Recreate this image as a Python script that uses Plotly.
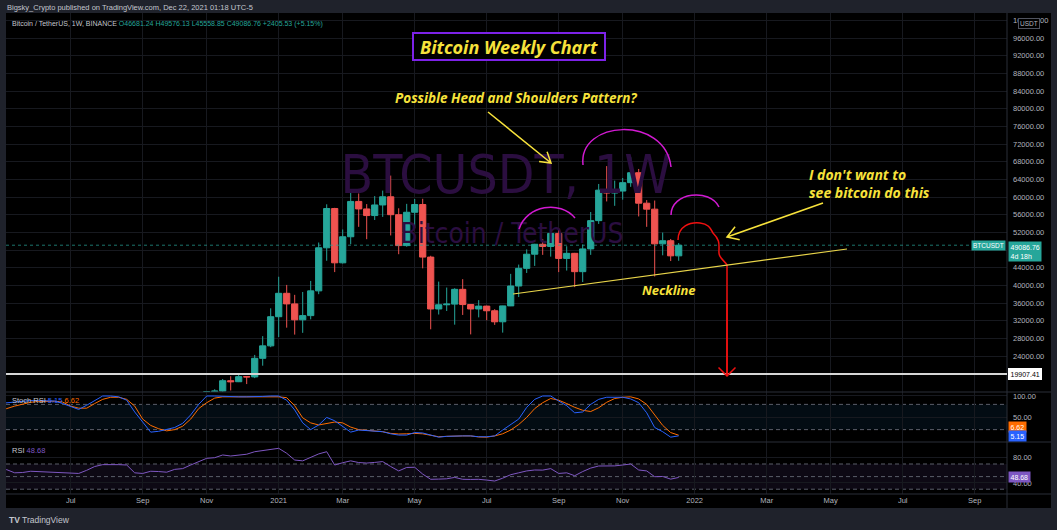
import re
import math
import pandas as pd
import plotly.graph_objects as go

# ---------------- data ----------------
candle_start = "2020-11-02"   # weekly candles, Monday opens
opens = [13760, 15960, 16060, 18410, 18180, 19330, 19270, 23480, 26300, 32900,
         38200, 35800, 32200, 33150, 38750, 48500, 57400, 45100, 51000, 59000,
         57300, 55800, 58200, 60050, 56000, 49000, 56550, 58300, 46400, 34650,
         35600, 35750, 39100, 35650, 34650, 35300, 34250, 31750, 35350, 39850,
         43850, 47050, 49300, 48800, 51750, 46100, 47250, 43100, 48250, 54650,
         61550, 60900, 61350, 63250, 65500, 58600, 57250, 49400, 50100, 46681.24]
highs = [15970, 16480, 18800, 19420, 19880, 19420, 24250, 28500, 34800, 41950,
         40100, 37850, 38500, 41000, 49700, 58350, 57550, 52650, 61800, 60800,
         58400, 60200, 61450, 64850, 57450, 58450, 59550, 59600, 46700, 40850,
         39500, 39350, 41400, 35750, 36650, 35400, 34600, 35400, 42600, 44700,
         48150, 49400, 50500, 52000, 52920, 48850, 47350, 49250, 56600, 62950,
         67000, 63700, 64300, 69000, 66350, 59300, 59200, 51950, 50500, 49576.13]
lows = [13200, 14800, 15800, 16200, 18100, 17650, 19000, 21810, 26000, 28300,
        30420, 28850, 29250, 32300, 38000, 45570, 43000, 44950, 49300, 53250,
        50450, 54800, 55500, 51300, 47050, 48750, 52900, 43850, 30050, 33400,
        34200, 31100, 33300, 28900, 32750, 32100, 31050, 29300, 35300, 37350,
        42800, 44400, 46900, 46500, 43000, 43350, 39600, 40750, 46900, 53900,
        59000, 58000, 59400, 62300, 55600, 53250, 42000, 46800, 45500, 45558.85]
closes = [15960, 16060, 18410, 18180, 19330, 19270, 23480, 26300, 32900, 38200,
          35800, 32200, 33150, 38750, 48500, 57400, 45100, 51000, 59000, 57300,
          55800, 58200, 60050, 56000, 49000, 56550, 58300, 46400, 34650, 35600,
          35750, 39100, 35650, 34650, 35300, 34250, 31750, 35350, 39850, 43850,
          47050, 49300, 48800, 51750, 46100, 47250, 43100, 48250, 54650, 61550,
          60900, 61350, 63250, 65500, 58600, 57250, 49400, 50100, 46681.24, 49086.76]

indicator_start = "2020-05-04"
stoch_k = [82, 84, 86, 88, 89, 89, 89, 88, 82, 74.5,
           68, 78, 90, 100, 100, 98, 90, 62, 38, 14,
           16, 21, 25, 35, 55, 80, 100, 100, 99, 98,
           98, 98, 98, 99, 100, 100, 90, 66.7, 36, 20,
           31, 49, 41, 27, 14, 19, 18, 16, 15, 10,
           7, 7, 13, 12, 7, 2, 4, 5, 5, 5,
           3, 3, 5, 19, 32, 45, 73, 92, 100, 100,
           88, 77, 60, 62, 80, 92, 97, 97, 97, 93,
           84, 60, 25, 15, 2, 5.15]
stoch_d = [66, 70, 76, 81, 85, 87, 88, 87.5, 85.5, 76,
           71, 71, 82, 92, 97, 97, 92, 76, 45, 30,
           22, 17, 20, 28, 45, 70, 84, 95, 98, 98,
           98, 98, 98, 98, 98, 98, 96, 77, 48, 36,
           31, 34, 38, 36, 26, 20, 18, 16, 15, 11,
           9.5, 10, 11, 10, 7, 3, 4, 5, 5, 5,
           2.5, 2, 5, 10, 19, 32, 49, 70, 84, 94,
           90, 82, 73, 66, 63, 72, 85, 94, 97, 98,
           93, 80, 55, 30, 13, 6.62]
rsi = [62, 61, 56, 56.5, 58.5, 58, 56.5, 56, 55.5, 55,
       55, 60, 66, 69, 69.5, 69, 68.4, 56, 55, 58.5,
       58, 57, 61.5, 62.7, 68.4, 74, 79, 80, 84.3, 82.7,
       84.5, 85.5, 89.5, 91, 93, 94.9, 87, 76.3, 75, 80.6,
       86, 89.5, 68.4, 72, 75, 72.3, 71.5, 72.5, 73.8, 66,
       59, 64.5, 64.8, 54, 45.7, 46, 46.5, 48.7, 45.7, 45.5,
       45.7, 44.5, 43, 47.5, 53, 56, 59, 60.5, 60.3, 62.7,
       55, 56, 51.4, 58, 63.5, 66.8, 66.5, 67, 68.4, 70,
       60.5, 59, 49.8, 50.2, 46, 48.68]

price_ticks = list(range(24000, 100001, 4000))
stoch_ticks = [50, 100]
rsi_ticks = [40, 80]
time_tick_dates = ["2020-07-06", "2020-09-07", "2020-11-02", "2021-01-04", "2021-03-01",
                   "2021-05-03", "2021-07-05", "2021-09-06", "2021-11-01", "2022-01-03",
                   "2022-03-07", "2022-05-02", "2022-07-04", "2022-09-05"]
time_tick_labels = ["Jul", "Sep", "Nov", "2021", "Mar", "May", "Jul", "Sep", "Nov",
                    "2022", "Mar", "May", "Jul", "Sep"]

last_price = 49086.76
support_price = 19907.41
stoch_k_last, stoch_d_last, rsi_last = 5.15, 6.62, 48.68

candle_dates = pd.date_range(candle_start, periods=len(opens), freq="7D")
ind_dates = pd.date_range(indicator_start, periods=len(rsi), freq="7D")

# ---------------- geometry ----------------
W, H = 1057, 530
PL, PR, PT, PB = 6, 1007, 13, 494          # plot area in pixels
MAIN_BOT, STOCH_BOT = 392, 442
REF_DATE, REF_PX, PX_PER_WEEK = pd.Timestamp("2021-01-04"), 278.7, 8.0
PRICE_PER_PX, PRICE_REF, PRICE_REF_PX = 226.4, 96000, 38


def px_to_date(px):
    return REF_DATE + pd.Timedelta(days=(px - REF_PX) * 7 / PX_PER_WEEK)


def py_to_price(py):
    return PRICE_REF - (py - PRICE_REF_PX) * PRICE_PER_PX


def X(px):
    return (px - PL) / (PR - PL)


def Y(py):
    return (PB - py) / (PB - PT)


def path(s):
    def rep(m):
        return f"{X(float(m.group(1))):.5f},{Y(float(m.group(2))):.5f}"
    return re.sub(r"(-?\d+\.?\d*),(-?\d+\.?\d*)", rep, s)


def arrow(x0, y0, x1, y1, length=11, ang=30):
    a = math.atan2(y0 - y1, x0 - x1)
    r = math.radians(ang)
    p1 = (x1 + length * math.cos(a + r), y1 + length * math.sin(a + r))
    p2 = (x1 + length * math.cos(a - r), y1 + length * math.sin(a - r))
    return (f"M {x0},{y0} L {x1},{y1} M {p1[0]:.2f},{p1[1]:.2f} "
            f"L {x1},{y1} L {p2[0]:.2f},{p2[1]:.2f}")


UP, DOWN = "#26a69a", "#ef5350"
YELLOW, MAGENTA, RED = "#f7e23b", "#d21ad2", "#f01010"
GRID = "#17191f"
AXIS_TXT = "#b2b5be"
BASE_FONT = "Liberation Sans, Arial, sans-serif"
DRAW_FONT = "Open Sans, Lato, sans-serif"
WM_FONT = "Liberation Sans Narrow, DejaVu Sans Condensed, sans-serif"

fig = go.Figure()

# watermark (beneath candles)
fig.add_trace(go.Scatter(x=[px_to_date(506)], y=[py_to_price(180)], mode="text",
                         text=["BTCUSDT, 1W"], textposition="middle center",
                         textfont=dict(family=WM_FONT, size=53, color="#2b0e40"),
                         hoverinfo="skip", showlegend=False))
fig.add_trace(go.Scatter(x=[px_to_date(512)], y=[py_to_price(236)], mode="text",
                         text=["Bitcoin / TetherUS"], textposition="middle center",
                         textfont=dict(family=WM_FONT, size=28, color="#2b0e40"),
                         hoverinfo="skip", showlegend=False))

fig.add_trace(go.Candlestick(
    x=candle_dates, open=opens, high=highs, low=lows, close=closes,
    increasing=dict(line=dict(color=UP, width=1), fillcolor=UP),
    decreasing=dict(line=dict(color=DOWN, width=1), fillcolor=DOWN),
    whiskerwidth=0, hoverinfo="skip", showlegend=False))

fig.add_trace(go.Scatter(x=ind_dates, y=stoch_d, mode="lines", yaxis="y2",
                         line=dict(color="#ff6d00", width=1), hoverinfo="skip", showlegend=False))
fig.add_trace(go.Scatter(x=ind_dates, y=stoch_k, mode="lines", yaxis="y2",
                         line=dict(color="#2962ff", width=1), hoverinfo="skip", showlegend=False))
fig.add_trace(go.Scatter(x=ind_dates, y=rsi, mode="lines", yaxis="y3",
                         line=dict(color="#7e57c2", width=1), hoverinfo="skip", showlegend=False))

shapes = []
# black chart background incl. price & time axes
shapes.append(dict(type="rect", xref="paper", yref="paper", x0=X(6), x1=X(1051), y0=Y(508), y1=Y(13),
                   fillcolor="#000000", line=dict(width=0), layer="below"))
# indicator bands
shapes.append(dict(type="rect", xref="paper", yref="y2", x0=0, x1=1, y0=20, y1=80,
                   fillcolor="rgba(33,150,243,0.08)", line=dict(width=0), layer="below"))
shapes.append(dict(type="rect", xref="paper", yref="y3", x0=0, x1=1, y0=30, y1=70,
                   fillcolor="rgba(126,87,194,0.10)", line=dict(width=0), layer="below"))
for lvl in (20, 80):
    shapes.append(dict(type="line", xref="paper", yref="y2", x0=0, x1=1, y0=lvl, y1=lvl,
                       line=dict(color="#5a5e69", width=1, dash="4px,3px"), layer="below"))
for lvl in (30, 50, 70):
    shapes.append(dict(type="line", xref="paper", yref="y3", x0=0, x1=1, y0=lvl, y1=lvl,
                       line=dict(color="#5a5e69", width=1, dash="4px,3px"), layer="below"))
# pane separators
for py in (MAIN_BOT, STOCH_BOT, PB):
    shapes.append(dict(type="line", xref="paper", yref="paper", x0=X(6), x1=X(1051), y0=Y(py), y1=Y(py),
                       line=dict(color="#2a2e39", width=1)))
shapes.append(dict(type="line", xref="paper", yref="paper", x0=1, x1=1, y0=Y(508), y1=Y(13),
                   line=dict(color="#2a2e39", width=1)))
# price lines
shapes.append(dict(type="line", xref="paper", yref="y", x0=0, x1=1, y0=last_price, y1=last_price,
                   line=dict(color="rgba(38,166,154,0.7)", width=1, dash="dot")))
shapes.append(dict(type="line", xref="paper", yref="y", x0=0, x1=1, y0=support_price, y1=support_price,
                   line=dict(color="#d6d6d6", width=2)))
# title box
shapes.append(dict(type="rect", xref="paper", yref="paper", x0=X(413), x1=X(605), y0=Y(60), y1=Y(33),
                   fillcolor="#000000", line=dict(color="#7d22e8", width=2)))
# head and shoulders arcs
for d in ("M 519,229 C 527,205 560,200 575,218",
          "M 583,165 C 578,120 665,115 671,167",
          "M 671,215 C 671,192 710,188 719,207"):
    shapes.append(dict(type="path", xref="paper", yref="paper", path=path(d),
                       line=dict(color=MAGENTA, width=1.5)))
# red "don't want" path
shapes.append(dict(type="path", xref="paper", yref="paper",
                   path=path("M 678,240 C 678,226 690,222 700,223 C 710,224 711,230 713,233 "
                             "C 720,240 719,244 719,250 C 718,258 724,260 727,265 L 727,375"),
                   line=dict(color=RED, width=1.5)))
shapes.append(dict(type="path", xref="paper", yref="paper", path=path(arrow(727, 300, 727, 376, 12, 45)),
                   line=dict(color=RED, width=1.5)))
# neckline
shapes.append(dict(type="line", xref="paper", yref="paper", x0=X(513), y0=Y(294), x1=X(847), y1=Y(249),
                   line=dict(color="#e9d54a", width=1.2)))
# yellow arrows
shapes.append(dict(type="path", xref="paper", yref="paper", path=path(arrow(488, 112, 551, 163, 12, 32)),
                   line=dict(color=YELLOW, width=1.5)))
shapes.append(dict(type="path", xref="paper", yref="paper", path=path(arrow(823, 203, 727, 237, 13, 32)),
                   line=dict(color=YELLOW, width=1.5)))

ann = []


def txt(px, py, text, size=7, color="#d1d4dc", xanchor="left", family=BASE_FONT, **kw):
    ann.append(dict(x=X(px), y=Y(py), xref="paper", yref="paper", text=text, showarrow=False,
                    xanchor=xanchor, yanchor="middle", align="left",
                    font=dict(size=size, color=color, family=family), **kw))


txt(5, 7, "Bigsky_Crypto published on TradingView.com, Dec 22, 2021 01:18 UTC-5", size=7.5, color="#c3c6ce")
txt(10, 24, "Bitcoin / TetherUS, 1W, BINANCE <span style='color:#26a69a'>O46681.24 H49576.13 "
            "L45558.85 C49086.76 +2405.53 (+5.15%)</span>", size=7, color="#c3c6ce")
txt(10, 400, f"Stoch RSI <span style='color:#2962ff'>{stoch_k_last:.2f}</span> "
             f"<span style='color:#ff6d00'>{stoch_d_last:.2f}</span>", size=7.5, color="#c3c6ce")
txt(10, 451, f"RSI <span style='color:#7e57c2'>{rsi_last:.2f}</span>", size=7.5, color="#c3c6ce")
txt(7, 520, "<b>TV</b> TradingView", size=8.5, color="#c3c6ce")

# drawing texts
txt(509, 46.5, "<b><i>Bitcoin Weekly Chart</i></b>", size=18, color=YELLOW, xanchor="center", family=DRAW_FONT)
txt(516, 98, "<b><i>Possible Head and Shoulders Pattern?</i></b>", size=13.5, color=YELLOW,
    xanchor="center", family=DRAW_FONT)
txt(669, 290, "<b><i>Neckline</i></b>", size=13, color=YELLOW, xanchor="center", family=DRAW_FONT)
txt(807, 184, "<b><i>I don't want to<br>see bitcoin do this</i></b>", size=14, color=YELLOW,
    family=DRAW_FONT)

# price-axis badges
ann.append(dict(x=X(1029), y=Y(24), xref="paper", yref="paper", text="USDT", showarrow=False,
                xanchor="center", yanchor="middle", bgcolor="#000000", bordercolor="#50535e",
                borderwidth=1, borderpad=1, font=dict(size=6.5, color=AXIS_TXT, family=BASE_FONT)))
ann.append(dict(x=X(1008), y=last_price, xref="paper", yref="y", yshift=4,
                text=f"{last_price:.2f}<br>4d 18h", showarrow=False, align="left",
                xanchor="left", yanchor="top", bgcolor=UP, borderpad=1.5,
                font=dict(size=7, color="#ffffff", family=BASE_FONT)))
ann.append(dict(x=X(1006), y=last_price, xref="paper", yref="y", text="BTCUSDT", showarrow=False,
                xanchor="right", yanchor="middle", bgcolor=UP, borderpad=1,
                font=dict(size=6.5, color="#ffffff", family=BASE_FONT)))
ann.append(dict(x=X(1008), y=support_price, xref="paper", yref="y", text=f"{support_price:.2f}",
                showarrow=False, xanchor="left", yanchor="middle", bgcolor="#ffffff",
                bordercolor="#ffffff", borderpad=1.5, font=dict(size=7, color="#000000", family=BASE_FONT)))
ann.append(dict(x=X(1008), y=Y(426.5), xref="paper", yref="paper", text=f"{stoch_d_last:.2f}",
                showarrow=False, xanchor="left", yanchor="middle", bgcolor="#ff6d00", borderpad=1.5,
                font=dict(size=7, color="#ffffff", family=BASE_FONT)))
ann.append(dict(x=X(1008), y=Y(436.3), xref="paper", yref="paper", text=f"{stoch_k_last:.2f}",
                showarrow=False, xanchor="left", yanchor="middle", bgcolor="#2962ff", borderpad=1.5,
                font=dict(size=7, color="#ffffff", family=BASE_FONT)))
ann.append(dict(x=X(1008), y=rsi_last, xref="paper", yref="y3", text=f"{rsi_last:.2f}",
                showarrow=False, xanchor="left", yanchor="middle", bgcolor="#7e57c2", borderpad=1.5,
                font=dict(size=7, color="#ffffff", family=BASE_FONT)))

tickfont = dict(size=7.5, color=AXIS_TXT, family=BASE_FONT)
common_y = dict(side="right", anchor="x", showgrid=True, gridcolor=GRID, zeroline=False,
                ticks="", showline=False, tickfont=tickfont, fixedrange=True, ticklabelstandoff=5)

# the 48000 label sits under the last-price badge, as in the original
price_ticktext = ["" if v == 48000 else f"{v:.2f}" for v in price_ticks]

fig.update_layout(
    width=W, height=H, autosize=False,
    margin=dict(l=PL, r=W - PR, t=PT, b=H - PB, pad=0),
    paper_bgcolor="#1f222b", plot_bgcolor="#000000",
    showlegend=False, boxgap=0.12, boxgroupgap=0.12,
    xaxis=dict(type="date", range=[px_to_date(PL), px_to_date(PR)], domain=[0, 1], anchor="y3",
               tickvals=pd.to_datetime(time_tick_dates), ticktext=time_tick_labels,
               showgrid=True, gridcolor=GRID, zeroline=False, ticks="", showline=False,
               tickfont=tickfont, rangeslider=dict(visible=False), fixedrange=True),
    yaxis=dict(domain=[Y(MAIN_BOT), 1], range=[py_to_price(MAIN_BOT), py_to_price(PT)],
               tickvals=price_ticks, ticktext=price_ticktext, **common_y),
    yaxis2=dict(domain=[Y(STOCH_BOT), Y(MAIN_BOT)], range=[-9.5, 109.5],
                tickvals=stoch_ticks, ticktext=[f"{v:.2f}" for v in stoch_ticks], **common_y),
    yaxis3=dict(domain=[0, Y(STOCH_BOT)], range=[22.4, 104.9],
                tickvals=rsi_ticks, ticktext=[f"{v:.2f}" for v in rsi_ticks], **common_y),
    shapes=shapes, annotations=ann,
)

fig.write_html("out.html")
